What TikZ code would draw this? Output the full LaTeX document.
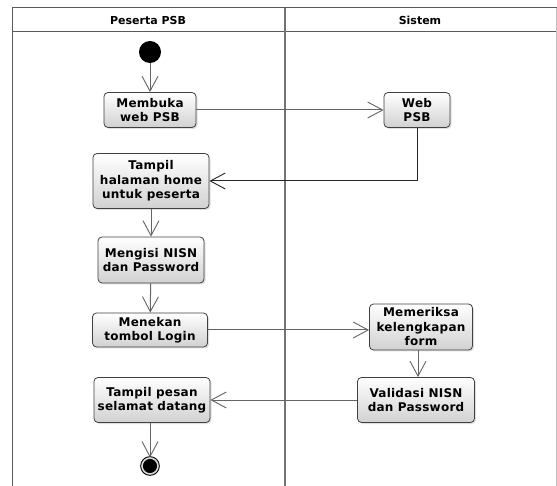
\documentclass[tikz,border=0pt]{standalone}
\usepackage{fontspec}
\setmainfont{DejaVu Sans}
\newfontfamily\actfont[LetterSpace=2]{DejaVu Sans}
\usetikzlibrary{arrows.meta,shadows}
\definecolor{lanegray}{RGB}{90,90,90}
\definecolor{flowgray}{RGB}{100,100,100}

\begin{document}
\begin{tikzpicture}[
  x=1pt, y=-1pt,
  % ── node styles ──────────────────────────────────────────────────────────
  act/.style={
    draw=black!75, line width=0.8pt,
    rectangle, rounded corners=4pt,
    top color=white, bottom color=black!18,
    drop shadow={shadow xshift=1.5pt, shadow yshift=-1.5pt, opacity=0.25},
    align=center, inner sep=1pt,
    font=\actfont\fontsize{12}{14.5}\selectfont\bfseries
  },
  % lane header text
  lanehead/.style={font=\fontsize{11}{13}\selectfont\bfseries},
  % control flow with open arrow head
  flow/.style={
    draw=flowgray, line width=1pt,
    -{Straight Barb[length=15pt, width=16pt, line width=0.9pt]}
  },
  startdot/.style={
    circle, fill=black, minimum size=22pt, inner sep=0pt,
    drop shadow={shadow xshift=0pt, shadow yshift=0pt, opacity=0.3}
  },
  enddot/.style={
    circle, fill=black, minimum size=16pt, inner sep=0pt,
    double=white!85!black, double distance=1.6pt, draw=black, line width=1pt
  },
]

\useasboundingbox (0,0) rectangle (557,486);

% ── Swimlanes ───────────────────────────────────────────────────────────────
\draw[lanegray, line width=1pt] (12,486) -- (12,8) -- (557,8);
\draw[lanegray, line width=1pt] (12,32) -- (557,32);
\draw[black!25, line width=1pt] (556,8) -- (556,486);
\draw[black!55, line width=1.4pt] (285,8) -- (285,486);
\node[lanehead] (laneA) at (148,20) {Peserta PSB};
\node[lanehead] (laneB) at (420,20) {Sistem};

% ── Start / end ─────────────────────────────────────────────────────────────
\node[startdot] (start) at (150,52) {};
\node[enddot]   (stop)  at (150,466) {};

% ── Activities ──────────────────────────────────────────────────────────────
\node[act, minimum width=92pt,  minimum height=35pt] (buka)    at (150,110) {Membuka\\web PSB};
\node[act, minimum width=66pt,  minimum height=35pt] (web)     at (417,110) {Web\\PSB};
\node[act, minimum width=116pt, minimum height=55pt] (home)    at (151,181) {Tampil\\halaman home\\untuk peserta};
\node[act, minimum width=106pt, minimum height=46pt] (isi)     at (151,260) {Mengisi NISN\\dan Password};
\node[act, minimum width=115pt, minimum height=34pt] (login)   at (150,330) {Menekan\\tombol Login};
\node[act, minimum width=103pt, minimum height=46pt] (periksa) at (421,327) {Memeriksa\\kelengkapan\\form};
\node[act, minimum width=117pt, minimum height=45pt] (valid)   at (416,400) {Validasi NISN\\dan Password};
\node[act, minimum width=116pt, minimum height=45pt] (pesan)   at (152,400) {Tampil pesan\\selamat datang};

% ── Control flows ───────────────────────────────────────────────────────────
\draw[flow] (start) -- (buka);
\draw[flow] (buka.east) -- (web.west);
\draw[flow, draw=black!85] (web.south) |- (home.east);
\draw[flow] (home.south -| isi.north) -- (isi.north);
\draw[flow] (isi) -- (login);
\draw[flow] (login.east) -- (login.east -| periksa.west);
\draw[flow] ([xshift=-3pt]periksa.south) -- ([xshift=-3pt]periksa.south |- valid.north);
\draw[flow] (valid.west) -- (valid.west -| pesan.east);
\draw[flow] (pesan.south -| stop.north) -- (stop.north);

\end{tikzpicture}
\end{document}
